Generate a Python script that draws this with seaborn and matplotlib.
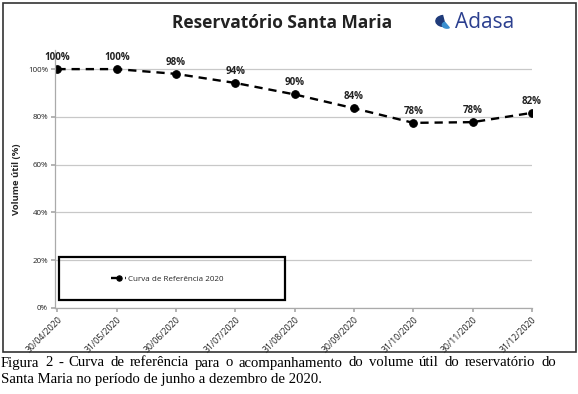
import pandas as pd
import seaborn as sns
import matplotlib.pyplot as plt
from matplotlib.patches import Rectangle, Wedge

# data
datas = ["30/04/2020", "31/05/2020", "30/06/2020", "31/07/2020", "31/08/2020",
         "30/09/2020", "31/10/2020", "30/11/2020", "31/12/2020"]
volume = [100, 100, 98, 94.2, 89.4, 83.6, 77.5, 77.8, 81.7]
rotulos = ["100%", "100%", "98%", "94%", "90%", "84%", "78%", "78%", "82%"]
yticks = [0, 20, 40, 60, 80, 100]

W, H = 578, 394

def fx(px):
    return px / W

def fy(py):
    return 1 - py / H

sns.set_theme(style="white")
plt.rcParams['font.family'] = ['Open Sans', 'DejaVu Sans']

fig = plt.figure(figsize=(W / 100, H / 100), dpi=100)
fig.patch.set_facecolor("white")

# axes: y axis at x=55, last point at x=532, 0% at y=308, top at y=50
ax = fig.add_axes([fx(55), fy(308), fx(532 - 55), (308 - 50) / H])

df = pd.DataFrame({"data": datas, "volume": volume})
sns.lineplot(data=df, x="data", y="volume", ax=ax, color="black",
             linestyle=(0, (3.5, 2.5)), linewidth=1.7, marker="o",
             markersize=5.5, markeredgecolor="black", label="Curva de Referência 2020",
             sort=False)

for i, (v, r) in enumerate(zip(volume, rotulos)):
    ax.text(i, v + 2.6, r, ha="center", va="bottom", fontsize=7,
            fontweight="bold", color="#222222")

ax.set_xlim(-0.04, 8.0)
ax.set_ylim(0, 108)
ax.set_yticks(yticks)
ax.set_yticklabels([f"{t}%" for t in yticks], fontsize=5.8, color="#222222")
ax.yaxis.grid(True, color="#c8c8c8", linewidth=0.9)
ax.xaxis.grid(False)
ax.set_xticks(range(len(datas)))
ax.set_xticklabels(datas, rotation=45, ha="right", rotation_mode="anchor",
                   fontsize=6.3, color="#222222")
ax.tick_params(axis="x", bottom=True, length=3, color="#aaaaaa", pad=2)
ax.tick_params(axis="y", left=True, length=3, color="#aaaaaa", pad=2)
for s in ["top", "right"]:
    ax.spines[s].set_visible(False)
for s in ["left", "bottom"]:
    ax.spines[s].set_color("#aaaaaa")
    ax.spines[s].set_linewidth(0.9)
ax.set_xlabel("")
ax.set_ylabel("Volume útil (%)", fontsize=6.8, fontweight="bold", labelpad=5)

# legend box
leg = ax.legend(loc="center left", bbox_to_anchor=(fx(104), fy(279)),
                bbox_transform=fig.transFigure, frameon=False, fontsize=5.8,
                handlelength=1.8, handletextpad=0.3, markerscale=0.7)
fig.patches.append(Rectangle((fx(59), fy(300)), fx(285 - 59), (300 - 257) / H,
                             transform=fig.transFigure, fill=False,
                             edgecolor="black", linewidth=1.6))

# outer frame
fig.patches.append(Rectangle((fx(3), fy(352)), fx(573), (352 - 3) / H,
                             transform=fig.transFigure, fill=False,
                             edgecolor="#333333", linewidth=1.2))

fig.text(fx(282), fy(23), "Reservatório Santa Maria", ha="center", va="center",
         fontsize=12.5, fontweight="bold", color="#222222")
fig.text(fx(455), fy(23), "Adasa", ha="left", va="center", fontsize=15,
         color="#2b3f8f")
# small logo mark
fig.patches.append(Wedge((fx(444), fy(21)), 0.014, 100, 280,
                         transform=fig.transFigure, color="#1f3b7a"))
fig.patches.append(Wedge((fx(447), fy(25)), 0.008, 120, 300,
                         transform=fig.transFigure, color="#3a8fd0"))

# caption below
linha1 = ("Figura 2 - Curva de referência para o acompanhamento do volume útil "
          "do reservatório do").split(" ")
x0, x1 = 1, 556
r = fig.canvas.get_renderer()
widths = []
for w in linha1:
    t = fig.text(0, 0, w, fontsize=10.6, family="Liberation Serif")
    widths.append(t.get_window_extent(renderer=r).width)
    t.remove()
gap = (x1 - x0 - sum(widths)) / (len(linha1) - 1)
x = x0
for w, wd in zip(linha1, widths):
    fig.text(fx(x), fy(363), w, fontsize=10.6, family="Liberation Serif",
             va="center", ha="left", color="black")
    x += wd + gap
fig.text(fx(1), fy(380), "Santa Maria no período de junho a dezembro de 2020.",
         fontsize=10.6, family="Liberation Serif", va="center", ha="left",
         color="black")

fig.savefig("out.png", dpi=100)
